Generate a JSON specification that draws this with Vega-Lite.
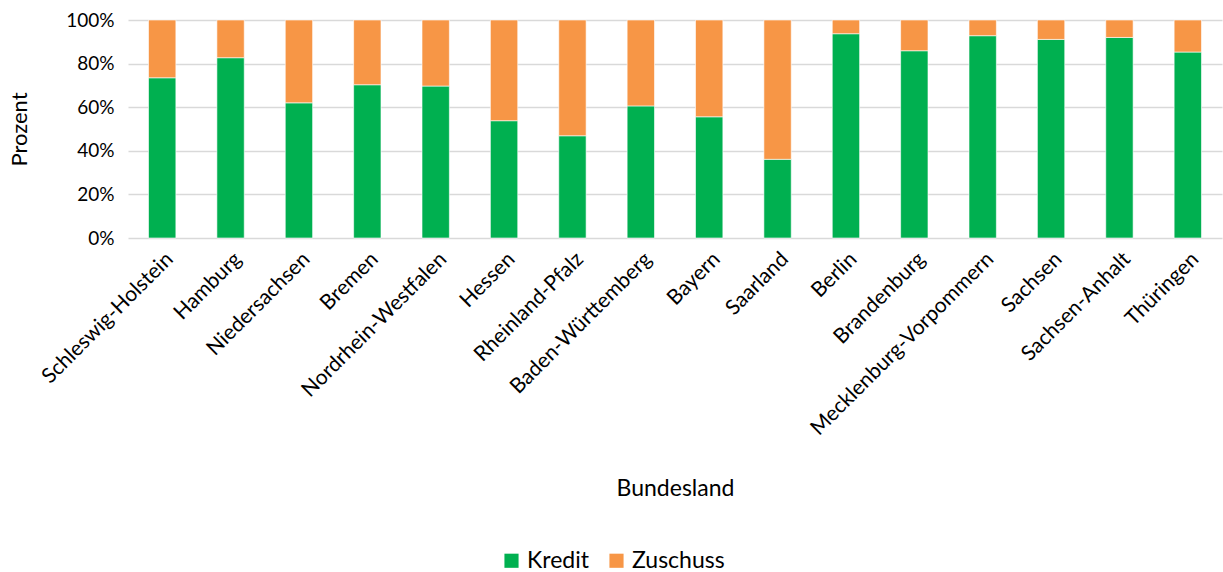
{
  "$schema": "https://vega.github.io/schema/vega-lite/v6.json",
  "width": 1094,
  "height": 218,
  "autosize": "none",
  "padding": {"left": 128, "top": 20, "right": 1, "bottom": 334},
  "background": "white",
  "config": {
    "font": "Lato",
    "view": {"stroke": null},
    "axis": {"labelFont": "Lato", "titleFont": "Lato", "labelColor": "#000", "titleColor": "#000", "titleFontWeight": "normal"}
  },
  "data": {
    "values": [
      {"land": "Schleswig-Holstein", "art": "Kredit", "wert": 0.735},
      {"land": "Schleswig-Holstein", "art": "Zuschuss", "wert": 0.265},
      {"land": "Hamburg", "art": "Kredit", "wert": 0.827},
      {"land": "Hamburg", "art": "Zuschuss", "wert": 0.173},
      {"land": "Niedersachsen", "art": "Kredit", "wert": 0.62},
      {"land": "Niedersachsen", "art": "Zuschuss", "wert": 0.38},
      {"land": "Bremen", "art": "Kredit", "wert": 0.703},
      {"land": "Bremen", "art": "Zuschuss", "wert": 0.297},
      {"land": "Nordrhein-Westfalen", "art": "Kredit", "wert": 0.697},
      {"land": "Nordrhein-Westfalen", "art": "Zuschuss", "wert": 0.303},
      {"land": "Hessen", "art": "Kredit", "wert": 0.538},
      {"land": "Hessen", "art": "Zuschuss", "wert": 0.462},
      {"land": "Rheinland-Pfalz", "art": "Kredit", "wert": 0.469},
      {"land": "Rheinland-Pfalz", "art": "Zuschuss", "wert": 0.531},
      {"land": "Baden-Württemberg", "art": "Kredit", "wert": 0.606},
      {"land": "Baden-Württemberg", "art": "Zuschuss", "wert": 0.394},
      {"land": "Bayern", "art": "Kredit", "wert": 0.556},
      {"land": "Bayern", "art": "Zuschuss", "wert": 0.444},
      {"land": "Saarland", "art": "Kredit", "wert": 0.361},
      {"land": "Saarland", "art": "Zuschuss", "wert": 0.639},
      {"land": "Berlin", "art": "Kredit", "wert": 0.937},
      {"land": "Berlin", "art": "Zuschuss", "wert": 0.063},
      {"land": "Brandenburg", "art": "Kredit", "wert": 0.859},
      {"land": "Brandenburg", "art": "Zuschuss", "wert": 0.141},
      {"land": "Mecklenburg-Vorpommern", "art": "Kredit", "wert": 0.928},
      {"land": "Mecklenburg-Vorpommern", "art": "Zuschuss", "wert": 0.072},
      {"land": "Sachsen", "art": "Kredit", "wert": 0.911},
      {"land": "Sachsen", "art": "Zuschuss", "wert": 0.089},
      {"land": "Sachsen-Anhalt", "art": "Kredit", "wert": 0.92},
      {"land": "Sachsen-Anhalt", "art": "Zuschuss", "wert": 0.08},
      {"land": "Thüringen", "art": "Kredit", "wert": 0.853},
      {"land": "Thüringen", "art": "Zuschuss", "wert": 0.147}
    ]
  },
  "mark": {"type": "bar", "stroke": "white", "strokeWidth": 0.6},
  "encoding": {
    "x": {
      "field": "land", "type": "nominal", "sort": null,
      "scale": {"paddingInner": 0.6, "paddingOuter": 0.3},
      "axis": {
        "title": "Bundesland", "titleFontSize": 23, "titleY": 239, "titleBaseline": "top",
        "labelAngle": -45, "labelFontSize": 21, "labelPadding": 10, "labelLimit": 0,
        "domain": false, "ticks": false, "grid": false
      }
    },
    "y": {
      "field": "wert", "type": "quantitative", "stack": "zero",
      "scale": {"domain": [0, 1], "nice": false},
      "axis": {
        "title": "Prozent", "titleFontSize": 22, "titleX": -97, "titlePadding": 0,
        "format": ".0%", "values": [0, 0.2, 0.4, 0.6, 0.8, 1],
        "labelFontSize": 19, "labelPadding": 14,
        "domain": false, "ticks": false,
        "grid": true, "gridColor": "#D9D9D9", "gridWidth": 1.5
      }
    },
    "color": {
      "field": "art", "type": "nominal",
      "scale": {"domain": ["Kredit", "Zuschuss"], "range": ["#00B050", "#F79646"]},
      "legend": {
        "title": null, "orient": "none", "direction": "horizontal",
        "legendX": 372, "legendY": 529,
        "symbolType": "square", "symbolSize": 200, "symbolStrokeWidth": 0,
        "labelFontSize": 23, "labelFont": "Lato", "labelColor": "#000", "columnPadding": 16
      }
    },
    "order": {"field": "art", "sort": "ascending"}
  }
}
